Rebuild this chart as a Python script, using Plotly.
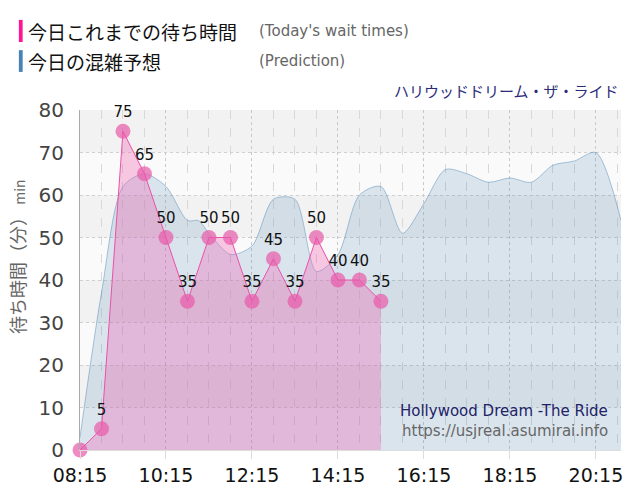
import plotly.graph_objects as go

# 実測値 (30分ごと)
wait_times = ["08:15", "08:45", "09:15", "09:45", "10:15", "10:45", "11:15", "11:45",
              "12:15", "12:45", "13:15", "13:45", "14:15", "14:45", "15:15"]
wait_values = [0, 5, 75, 65, 50, 35, 50, 50, 35, 45, 35, 50, 40, 40, 35]

# 混雑予想
pred_times = ["08:15", "08:45", "09:15", "09:45", "10:15", "10:45", "11:00", "11:15", "11:45",
              "12:15", "12:45", "13:15", "13:45", "14:15", "14:45", "15:15", "15:45",
              "16:15", "16:45", "17:15", "17:45", "18:15", "18:45", "19:15", "19:45",
              "20:15", "20:50"]
pred_values = [3, 37, 62, 65, 62, 54, 54, 51, 46, 48, 59, 59, 42, 46, 60, 62, 51,
               58, 66, 65, 63, 64, 63, 67, 68, 70, 54]

day = "2024-01-01 "
wx = [day + t for t in wait_times]
px_ = [day + t for t in pred_times]

font_lat = "DejaVu Sans, Noto Sans CJK JP, sans-serif"
font_jp = "Noto Sans CJK JP, DejaVu Sans, sans-serif"

fig = go.Figure()

fig.add_trace(go.Scatter(
    x=px_, y=pred_values, mode="lines",
    line=dict(color="rgba(70,130,180,0.45)", width=1, shape="spline", smoothing=0.8),
    fill="tozeroy", fillcolor="rgba(70,130,180,0.18)",
    hoverinfo="skip", showlegend=False,
))

fig.add_trace(go.Scatter(
    x=wx, y=wait_values, mode="lines+markers+text",
    line=dict(color="rgb(235,80,170)", width=1),
    fill="tozeroy", fillcolor="rgba(240,100,180,0.34)",
    marker=dict(size=15, color="rgba(232,90,170,0.7)"),
    text=[("" if v == 0 else str(v)) for v in wait_values], textposition="top center",
    textfont=dict(size=15, color="#111", family=font_lat),
    cliponaxis=False, showlegend=False,
))

# 背景の横縞
shapes = []
for y0 in [10, 30, 50, 70]:
    shapes.append(dict(type="rect", xref="paper", yref="y", x0=0, x1=1, y0=y0, y1=y0 + 10,
                       fillcolor="#f2f2f2", line_width=0, layer="below"))
# 凡例の色バー
shapes.append(dict(type="rect", xref="paper", yref="paper", x0=-0.113, x1=-0.106,
                   y0=1.2, y1=1.265, fillcolor="#ff1493", line_width=0))
shapes.append(dict(type="rect", xref="paper", yref="paper", x0=-0.113, x1=-0.106,
                   y0=1.112, y1=1.176, fillcolor="#4682b4", line_width=0))

annotations = [
    dict(text="今日これまでの待ち時間", x=-0.1, y=1.232, xref="paper", yref="paper",
         xanchor="left", yanchor="middle", showarrow=False,
         font=dict(size=19, color="#111", family=font_jp)),
    dict(text="(Today's wait times)", x=0.327, y=1.232, xref="paper", yref="paper",
         xanchor="left", yanchor="middle", showarrow=False,
         font=dict(size=15, color="#666", family=font_lat)),
    dict(text="今日の混雑予想", x=-0.1, y=1.144, xref="paper", yref="paper",
         xanchor="left", yanchor="middle", showarrow=False,
         font=dict(size=19, color="#111", family=font_jp)),
    dict(text="(Prediction)", x=0.327, y=1.144, xref="paper", yref="paper",
         xanchor="left", yanchor="middle", showarrow=False,
         font=dict(size=15, color="#666", family=font_lat)),
    dict(text="ハリウッドドリーム・ザ・ライド", x=1.0, y=1.058, xref="paper", yref="paper",
         xanchor="right", yanchor="middle", showarrow=False,
         font=dict(size=15, color="#2b2b7a", family=font_jp)),
    dict(text="Hollywood Dream -The Ride", x=0.98, y=0.115, xref="paper", yref="paper",
         xanchor="right", yanchor="middle", showarrow=False,
         font=dict(size=15, color="#222266", family=font_lat)),
    dict(text="https://usjreal.asumirai.info", x=0.98, y=0.055, xref="paper", yref="paper",
         xanchor="right", yanchor="middle", showarrow=False,
         font=dict(size=15, color="#666", family=font_lat)),
    # 縦軸タイトル
    dict(text="待ち時間（分）<span style='font-size:14px'> min</span>", textangle=-90,
         x=-0.117, y=0.57, xref="paper", yref="paper",
         xanchor="center", yanchor="middle", showarrow=False,
         font=dict(size=18, color="#666", family=font_jp)),
]

fig.update_layout(
    width=640, height=500,
    margin=dict(l=80, r=19, t=110, b=50),
    paper_bgcolor="white", plot_bgcolor="#fafafa",
    shapes=shapes, annotations=annotations,
    font=dict(family=font_lat),
)

fig.update_xaxes(
    type="date", range=[day + "08:15", day + "20:50"],
    tick0=day + "08:15", dtick=2 * 3600 * 1000, tickformat="%H:%M",
    tickfont=dict(size=19, color="#111"),
    ticks="outside", ticklen=8, tickcolor="#ddd",
    showgrid=True, gridcolor="#c8c8c8", griddash="dot",
    minor=dict(dtick=30 * 60 * 1000, tick0=day + "08:15", showgrid=True,
               gridcolor="#d8d8d8", griddash="dash"),
    showline=True, linecolor="#ddd", zeroline=False, automargin=False,
)
fig.update_yaxes(
    range=[0, 80], dtick=10,
    tickfont=dict(size=20, color="#444"), ticklabelstandoff=11,
    showgrid=True, gridcolor="#d0d0d0", griddash="dot",
    showline=True, linecolor="#aaa", zeroline=False, automargin=False,
)

fig.write_html("out.html", config={"displayModeBar": False},
               post_script="document.body.style.margin='0';")
